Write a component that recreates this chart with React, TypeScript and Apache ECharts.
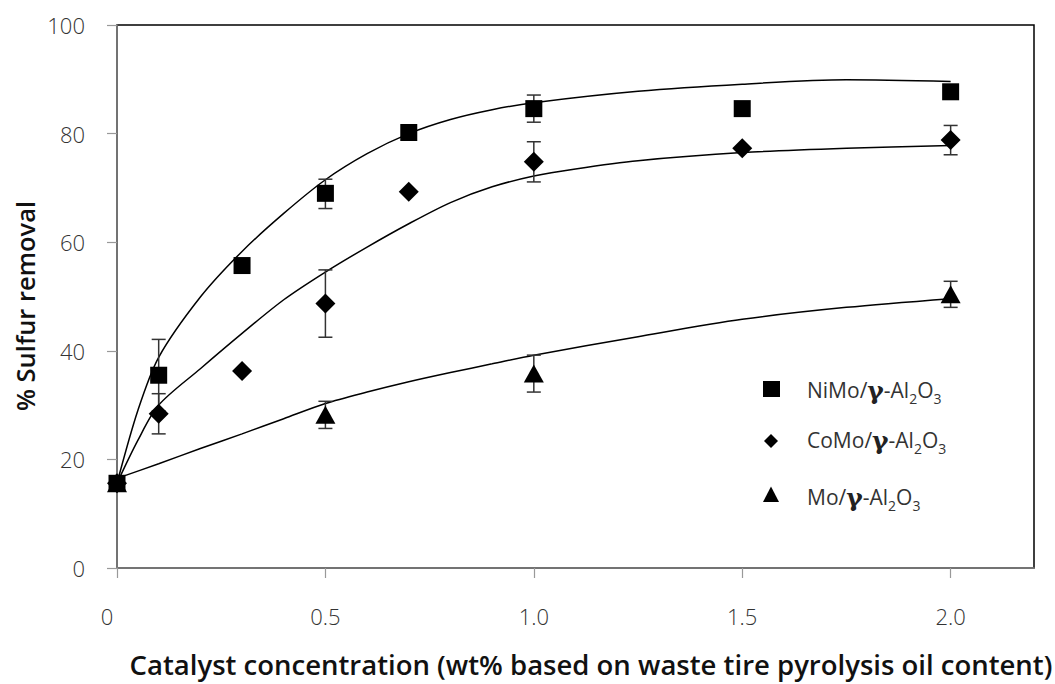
import React, { useEffect, useRef } from 'react';
import * as echarts from 'echarts';

// Axis ticks
const xTickValues = [0, 0.5, 1.0, 1.5, 2.0];
const yTickValues = [0, 20, 40, 60, 80, 100];

// Measured points (catalyst wt%, % sulfur removal)
const nimoX = [0, 0.1, 0.3, 0.5, 0.7, 1.0, 1.5, 2.0];
const nimoY = [15.6, 35.5, 55.7, 69.0, 80.2, 84.6, 84.6, 87.7];
const comoX = [0, 0.1, 0.3, 0.5, 0.7, 1.0, 1.5, 2.0];
const comoY = [15.6, 28.4, 36.3, 48.7, 69.3, 74.8, 77.3, 78.8];
const moX = [0, 0.5, 1.0, 2.0];
const moY = [15.6, 28.2, 35.8, 50.4];

// Error bars: [x, low, high]
const nimoErr = [
  [0.1, 28.9, 42.1],
  [0.5, 66.2, 71.6],
  [1.0, 82.1, 87.1],
];
const comoErr = [
  [0.1, 24.7, 32.1],
  [0.5, 42.5, 54.9],
  [1.0, 71.1, 78.5],
  [2.0, 76.1, 81.5],
];
const moErr = [
  [0.5, 25.7, 30.7],
  [1.0, 32.4, 39.2],
  [2.0, 48.0, 52.8],
];

// Trend curves
const nimoFitX = [0, 0.05, 0.1, 0.2, 0.3, 0.4, 0.5, 0.6, 0.7, 0.8, 0.9, 1.0, 1.25, 1.5, 1.75, 2.0];
const nimoFitY = [15.6, 29, 38.8, 49.9, 58.3, 65.3, 71.5, 76.3, 80.0, 82.6, 84.4, 85.7, 87.8, 89.1, 89.9, 89.6];
const comoFitX = [0, 0.05, 0.1, 0.2, 0.3, 0.4, 0.5, 0.6, 0.7, 0.8, 0.9, 1.0, 1.1, 1.25, 1.5, 1.75, 2.0];
const comoFitY = [15.6, 23.5, 30, 36.7, 43.2, 49.4, 54.5, 59.1, 63.4, 67.3, 70.2, 72.2, 73.5, 75.0, 76.5, 77.3, 77.8];
const moFitX = [0, 0.1, 0.2, 0.3, 0.4, 0.5, 0.6, 0.7, 0.8, 0.9, 1.0, 1.25, 1.5, 1.75, 2.0];
const moFitY = [16.5, 19.2, 22, 24.7, 27.5, 30.3, 32.4, 34.3, 36, 37.6, 39.2, 42.6, 45.8, 48, 49.6];

const FONT = '"Open Sans", "Noto Sans", sans-serif';
const AXIS_GRAY = '#868686';

const zip = (xs: number[], ys: number[]) => xs.map((x, i) => [x, ys[i]]);

const errorBarSeries = (data: number[][]) => ({
  type: 'custom',
  z: 2,
  silent: true,
  data,
  encode: { x: 0, y: [1, 2] },
  renderItem: (_params: any, api: any) => {
    const x = api.value(0);
    const lo = api.coord([x, api.value(1)]);
    const hi = api.coord([x, api.value(2)]);
    const w = 7;
    const style = { stroke: '#333', lineWidth: 1.5 };
    return {
      type: 'group',
      children: [
        { type: 'line', shape: { x1: lo[0], y1: lo[1], x2: hi[0], y2: hi[1] }, style },
        { type: 'line', shape: { x1: lo[0] - w, y1: lo[1], x2: lo[0] + w, y2: lo[1] }, style },
        { type: 'line', shape: { x1: hi[0] - w, y1: hi[1], x2: hi[0] + w, y2: hi[1] }, style },
      ],
    };
  },
});

const curveSeries = (xs: number[], ys: number[]) => ({
  type: 'line',
  z: 1,
  silent: true,
  smooth: 0.3,
  showSymbol: false,
  symbol: 'none',
  lineStyle: { color: '#000', width: 1.5 },
  data: zip(xs, ys),
});

const pointSeries = (name: string, xs: number[], ys: number[], symbol: string, size: any) => ({
  name,
  type: 'scatter',
  z: 3,
  symbol,
  symbolSize: size,
  itemStyle: { color: '#000', opacity: 1 },
  data: zip(xs, ys),
});

const legendRich = {
  g: { fontSize: 25, fontWeight: 'bold', fontFamily: '"DejaVu Serif", serif', fill: '#222', lineHeight: 30 },
  s: { fontSize: 14, fontFamily: FONT, fill: '#333', lineHeight: 14, verticalAlign: 'bottom' },
};

const legendText = (x: number, y: number, prefix: string) => ({
  type: 'text',
  x,
  y,
  style: {
    text: `${prefix}/{g|γ}-Al{s|2}O{s|3}`,
    fontSize: 21,
    fontFamily: FONT,
    fill: '#333',
    lineHeight: 30,
    verticalAlign: 'middle',
    rich: legendRich,
  },
});

export default function App() {
  const ref = useRef<HTMLDivElement>(null);

  useEffect(() => {
    if (!ref.current) return;
    const chart = echarts.init(ref.current, undefined, { renderer: 'svg' });
    chart.setOption({
      animation: false,
      backgroundColor: '#fff',
      grid: {
        left: 117,
        top: 25,
        right: 21,
        bottom: 116,
        show: true,
        borderColor: '#000',
        borderWidth: 1.5,
        backgroundColor: 'transparent',
      },
      xAxis: {
        type: 'value',
        min: 0,
        max: 2.2,
        interval: 0.5,
        splitLine: { show: false },
        axisLine: { show: true, lineStyle: { color: AXIS_GRAY, width: 1.5 } },
        axisTick: {
          show: true,
          inside: false,
          length: 10,
          customValues: xTickValues,
          lineStyle: { color: '#999', width: 1.2 },
        },
        axisLabel: {
          customValues: xTickValues,
          margin: 37,
          fontSize: 22,
          fontFamily: FONT,
          fontWeight: 300,
          color: '#333',
          formatter: (v: number) => (v === 0 ? '{z|0}' : v.toFixed(1)),
          rich: {
            z: { fontSize: 22, fontFamily: FONT, color: '#333', padding: [0, 20, 0, 0] },
          },
        },
      },
      yAxis: {
        type: 'value',
        min: 0,
        max: 100,
        interval: 20,
        splitLine: { show: false },
        axisLine: { show: true, lineStyle: { color: AXIS_GRAY, width: 1.5 } },
        axisTick: {
          show: true,
          inside: false,
          length: 10,
          customValues: yTickValues,
          lineStyle: { color: '#999', width: 1.2 },
        },
        axisLabel: {
          customValues: yTickValues,
          margin: 32,
          fontSize: 22,
          fontFamily: FONT,
          fontWeight: 300,
          color: '#333',
        },
      },
      series: [
        curveSeries(nimoFitX, nimoFitY),
        curveSeries(comoFitX, comoFitY),
        curveSeries(moFitX, moFitY),
        errorBarSeries(nimoErr),
        errorBarSeries(comoErr),
        errorBarSeries(moErr),
        pointSeries('NiMo/γ-Al2O3', nimoX, nimoY, 'rect', 17),
        pointSeries('CoMo/γ-Al2O3', comoX, comoY, 'diamond', 20),
        pointSeries('Mo/γ-Al2O3', moX, moY, 'triangle', [20, 18]),
      ],
      graphic: [
        // legend entries
        { type: 'rect', shape: { x: 763, y: 381, width: 17, height: 16 }, style: { fill: '#000' } },
        {
          type: 'polygon',
          shape: { points: [[771, 434], [778, 441], [771, 448], [764, 441]] },
          style: { fill: '#000' },
        },
        {
          type: 'polygon',
          shape: { points: [[771, 486.5], [779, 502], [763, 502]] },
          style: { fill: '#000' },
        },
        legendText(807, 390, 'NiMo'),
        legendText(807, 440, 'CoMo'),
        legendText(807, 497, 'Mo'),
        // axis titles
        {
          type: 'text',
          x: 591,
          y: 664,
          style: {
            text: 'Catalyst concentration (wt% based on waste tire pyrolysis oil content)',
            fontSize: 27.5,
            fontWeight: 600,
            fontFamily: FONT,
            fill: '#111',
            align: 'center',
            verticalAlign: 'middle',
          },
        },
        {
          type: 'text',
          x: 25,
          y: 306,
          rotation: Math.PI / 2,
          style: {
            text: '% Sulfur removal',
            fontSize: 25.5,
            fontWeight: 600,
            fontFamily: FONT,
            fill: '#111',
            align: 'center',
            verticalAlign: 'middle',
          },
        },
      ],
    });
    return () => chart.dispose();
  }, []);

  return (
    <div
      ref={ref}
      style={{ position: 'fixed', left: 0, top: 0, width: 1055, height: 684, background: '#fff' }}
    />
  );
}
